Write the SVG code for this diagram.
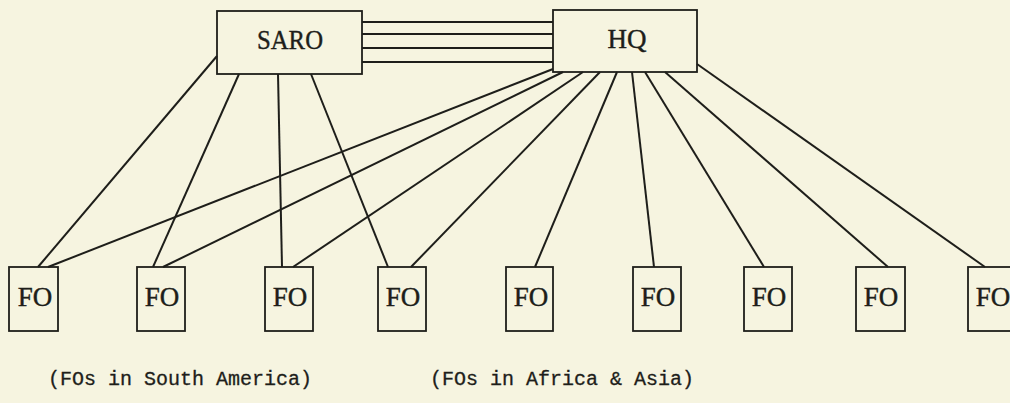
<svg xmlns="http://www.w3.org/2000/svg" width="1010" height="403" viewBox="0 0 1010 403">
<style>
.box{fill:none;stroke:#1e1e1a;stroke-width:1.8}
.ln{stroke:#1e1e1a;stroke-width:2;fill:none}
.lbl{font-family:"Liberation Serif",serif;font-size:27px;fill:#1e1e1a;stroke:#1e1e1a;stroke-width:0.4;text-anchor:middle}
.cap{font-family:"Liberation Mono",monospace;font-size:20px;fill:#1e1e1a;stroke:#1e1e1a;stroke-width:0.3}
</style>
<rect width="1010" height="403" fill="#f6f4e0"/>
<g id="connectors">
<line class="ln" x1="362" y1="22" x2="553" y2="22"/>
<line class="ln" x1="362" y1="34" x2="553" y2="34"/>
<line class="ln" x1="362" y1="48" x2="553" y2="48"/>
<line class="ln" x1="362" y1="62" x2="553" y2="62"/>
<line class="ln" x1="217" y1="56" x2="38" y2="267"/>
<line class="ln" x1="239" y1="74" x2="153" y2="267"/>
<line class="ln" x1="278" y1="74" x2="282" y2="267"/>
<line class="ln" x1="311" y1="74" x2="388" y2="267"/>
<line class="ln" x1="553" y1="69" x2="48" y2="267"/>
<line class="ln" x1="563" y1="72" x2="163" y2="267"/>
<line class="ln" x1="583" y1="72" x2="293" y2="267"/>
<line class="ln" x1="600" y1="72" x2="411" y2="267"/>
<line class="ln" x1="617" y1="72" x2="535" y2="267"/>
<line class="ln" x1="632" y1="72" x2="654" y2="267"/>
<line class="ln" x1="645" y1="72" x2="764" y2="267"/>
<line class="ln" x1="665" y1="72" x2="888" y2="267"/>
<line class="ln" x1="697" y1="64" x2="985" y2="267"/>
</g>
<g id="saro"><rect class="box" x="217" y="11" width="145" height="63"/><text class="lbl" x="290" y="49" textLength="66" lengthAdjust="spacingAndGlyphs">SARO</text></g>
<g id="hq"><rect class="box" x="553" y="10" width="144" height="62"/><text class="lbl" x="627" y="48">HQ</text></g>
<g id="fo1"><rect class="box" x="9" y="267" width="49" height="64"/><text class="lbl" x="35" y="306">FO</text></g>
<g id="fo2"><rect class="box" x="137" y="267" width="48" height="64"/><text class="lbl" x="162" y="306">FO</text></g>
<g id="fo3"><rect class="box" x="265" y="267" width="48" height="64"/><text class="lbl" x="290" y="306">FO</text></g>
<g id="fo4"><rect class="box" x="378" y="267" width="48" height="64"/><text class="lbl" x="403" y="306">FO</text></g>
<g id="fo5"><rect class="box" x="506" y="267" width="47" height="64"/><text class="lbl" x="531" y="306">FO</text></g>
<g id="fo6"><rect class="box" x="633" y="267" width="48" height="64"/><text class="lbl" x="658" y="306">FO</text></g>
<g id="fo7"><rect class="box" x="744" y="267" width="48" height="64"/><text class="lbl" x="769" y="306">FO</text></g>
<g id="fo8"><rect class="box" x="856" y="267" width="49" height="64"/><text class="lbl" x="881" y="306">FO</text></g>
<g id="fo9"><rect class="box" x="968" y="267" width="49" height="64"/><text class="lbl" x="993" y="306">FO</text></g>
<text class="cap" x="48" y="385">(FOs in South America)</text>
<text class="cap" x="430" y="385">(FOs in Africa &amp; Asia)</text>
</svg>
